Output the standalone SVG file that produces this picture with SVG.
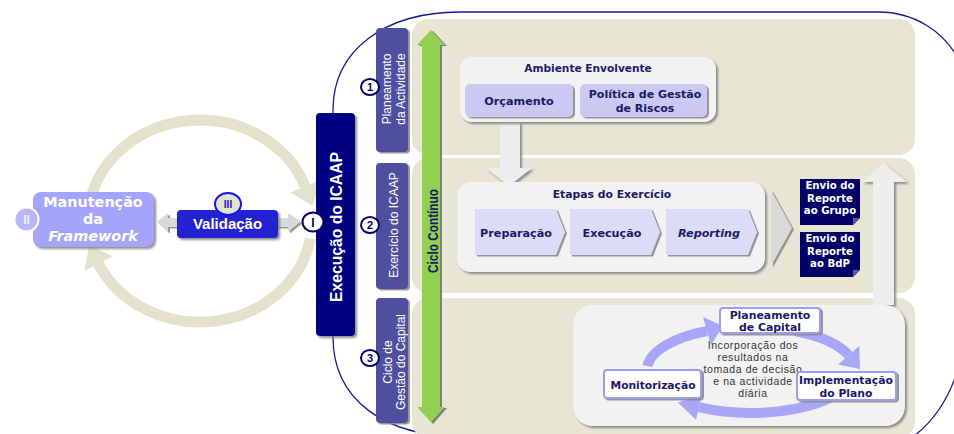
<svg xmlns="http://www.w3.org/2000/svg" width="954" height="434" viewBox="0 0 954 434">
<defs>
<filter id="ds" x="-20%" y="-20%" width="150%" height="150%"><feDropShadow dx="2" dy="2" stdDeviation="0.8" flood-color="#7a7a7a" flood-opacity="0.85"/></filter>
<filter id="ds2" x="-20%" y="-20%" width="150%" height="150%"><feDropShadow dx="2" dy="1.5" stdDeviation="0.6" flood-color="#8a8a8a" flood-opacity="0.9"/></filter>
<style>
.band{fill:#E7E5D3}
.side{fill:#5050A0}
.sidet{font-family:"Liberation Sans",Arial,sans-serif;font-size:12px;fill:#fff;text-anchor:middle}
.num{fill:#fff;stroke:#000066;stroke-width:2}
.numt{font-family:"Liberation Sans",Arial,sans-serif;font-weight:bold;font-size:11px;fill:#000066;text-anchor:middle}
.t{font-family:"DejaVu Sans",Verdana,sans-serif;font-weight:bold;fill:#1A1A66;text-anchor:middle}
.grey{fill:#F2F2F2}
.arr{fill:#EEEEEE}
.lav{fill:#C9C9F2}
.chev{fill:#DCDCF6}
.ring{fill:none;stroke:#A7A7F7;stroke-width:10}
.ringh{fill:#A7A7F7}
.node{fill:#fff;stroke:#9E9EF0;stroke-width:2}
.envio{fill:#000066}
.et{font-family:"DejaVu Sans",Verdana,sans-serif;font-weight:bold;font-size:10.2px;fill:#fff;text-anchor:middle}
.lring{fill:none;stroke:#E3E2CD;stroke-width:11}
.lringh{fill:#E3E2CD}
</style>
</defs>
<rect width="954" height="434" fill="#fff"/>

<!-- outer border -->
<g id="outer-border" fill="none" stroke="#1a1a8c" stroke-width="1.3">
<path d="M458 436 C385 436 333 400 333 337 V110 C333 50 385 12 460 12 H878 C915 12 945 32 960 62"/>
<path d="M914 436 C935 420 948 400 957 372"/>
</g>

<!-- bands -->
<g id="band1"><rect class="band" x="412" y="19" width="503" height="136" rx="16"/></g>
<g id="band2"><rect class="band" x="412" y="158" width="503" height="135" rx="16"/></g>
<g id="band3"><rect class="band" x="412" y="298" width="503" height="140" rx="16"/></g>

<!-- left cycle ring -->
<g id="left-cycle">
<path class="lring" d="M89.7 203.5 A112 101 0 0 1 305.2 186.5"/>
<polygon class="lringh" points="320,180.5 290.4,192.5 312.7,206"/>
<path class="lring" d="M310.3 238.5 A112 101 0 0 1 98.5 263.7"/>
<polygon class="lringh" points="112.7,256.4 84.3,271 89.3,245"/>
</g>

<!-- connectors -->
<g id="connectors">
<g id="validation-arrows" filter="url(#ds2)">
<polygon fill="#D9D9D9" points="157,222 168,213 168,218 180,218 180,227 168,227 168,232"/>
<polygon fill="#D9D9D9" points="276,218 288,218 288,213 300,222 288,232 288,227 276,227"/>
</g>
<g id="green-arrow">
<polygon fill="#7f7f7f" points="433,31 447,46 442,46 442,408 447,408 433,424 419,408 424,408 424,46 419,46"/>
<polygon fill="#92D050" points="431,30 445,45 440,45 440,407 445,407 431,422 417,407 422,407 422,45 417,45"/>
<text transform="translate(437.5,231) rotate(-90)" font-family="Liberation Sans,Arial,sans-serif" font-weight="bold" font-size="14" fill="#1A1A66" text-anchor="middle" textLength="84" lengthAdjust="spacingAndGlyphs">Ciclo Contínuo</text>
</g>
<polygon class="arr" filter="url(#ds)" points="500,122 520,122 520,168 532,168 509,186 486,168 500,168"/>
<polygon fill="#D9D9D9" filter="url(#ds2)" points="771,190 792,228 771,266"/>
<polygon class="arr" filter="url(#ds)" points="873,305 873,182 862,182 884,163 907,182 894,182 894,305"/>
</g>

<!-- Execução do ICAAP -->
<g id="execucao">
<rect x="316" y="113" width="39" height="223" rx="4" fill="#000080" filter="url(#ds)"/>
<text transform="translate(342,227) rotate(-90)" font-family="Liberation Sans,Arial,sans-serif" font-weight="bold" font-size="15.7" fill="#fff" text-anchor="middle">Execução do ICAAP</text>
</g>
<g id="circle-I">
<ellipse cx="313" cy="222" rx="10.5" ry="9.5" fill="#fff" stroke="#000066" stroke-width="2"/>
<text x="313" y="226.5" font-family="Liberation Sans,Arial,sans-serif" font-weight="bold" font-size="12" fill="#000066" text-anchor="middle">I</text>
</g>

<!-- Manutenção -->
<g id="manutencao">
<rect x="33" y="192" width="121" height="55" rx="8" fill="#A4A4FA" filter="url(#ds)"/>
<text font-family="DejaVu Sans,Verdana,sans-serif" font-weight="bold" font-size="14.4" fill="#fff" text-anchor="middle"><tspan x="93" y="207">Manutenção</tspan><tspan x="93" y="223.5">da</tspan><tspan x="93" y="240.5" font-style="italic">Framework</tspan></text>
</g>
<g id="circle-II">
<ellipse cx="26.5" cy="219.5" rx="12" ry="12" fill="#B7B7F8" stroke="#fff" stroke-width="2"/>
<text x="26.5" y="224" font-family="Liberation Sans,Arial,sans-serif" font-weight="bold" font-size="12" fill="#F0F0FF" text-anchor="middle">II</text>
</g>

<!-- Validação -->
<g id="validacao">
<rect x="177" y="210" width="101" height="28" rx="4" fill="#2020D0" filter="url(#ds)"/>
<text x="227.5" y="229" font-family="Liberation Sans,Arial,sans-serif" font-weight="bold" font-size="15" fill="#fff" text-anchor="middle">Validação</text>
</g>
<g id="circle-III">
<ellipse cx="228" cy="204" rx="13" ry="11" fill="#E3E2CD" stroke="#1515E0" stroke-width="2"/>
<text x="228" y="208" font-family="Liberation Sans,Arial,sans-serif" font-weight="bold" font-size="10" fill="#1515E0" text-anchor="middle">III</text>
</g>

<!-- side labels -->
<g id="side-1">
<rect class="side" x="376" y="28" width="32" height="124" rx="4" filter="url(#ds2)"/>
<text class="sidet" transform="translate(391,89) rotate(-90)">Planeamento</text>
<text class="sidet" transform="translate(405,89) rotate(-90)">da Actividade</text>
<ellipse class="num" cx="370" cy="87" rx="9" ry="8"/>
<text class="numt" x="370" y="91">1</text>
</g>
<g id="side-2">
<rect class="side" x="376" y="163" width="32" height="126" rx="4" filter="url(#ds2)"/>
<text class="sidet" transform="translate(398,225) rotate(-90)">Exercício do ICAAP</text>
<ellipse class="num" cx="370" cy="225" rx="9" ry="8"/>
<text class="numt" x="370" y="229">2</text>
</g>
<g id="side-3">
<rect class="side" x="376" y="298" width="32" height="125" rx="4" filter="url(#ds2)"/>
<text class="sidet" transform="translate(392,362) rotate(-90)">Ciclo de</text>
<text class="sidet" transform="translate(405,362) rotate(-90)">Gestão do Capital</text>
<ellipse class="num" cx="370" cy="358" rx="9" ry="8"/>
<text class="numt" x="370" y="362">3</text>
</g>

<!-- Ambiente Envolvente -->
<g id="ambiente">
<rect class="grey" x="460" y="57" width="256" height="65" rx="12" filter="url(#ds)"/>
<text class="t" x="588" y="72" font-size="10.6">Ambiente Envolvente</text>
</g>
<g id="orcamento">
<rect class="lav" x="465" y="84" width="108" height="33" rx="5" filter="url(#ds2)"/>
<text class="t" x="519" y="105" font-size="11.2">Orçamento</text>
</g>
<g id="politica">
<rect class="lav" x="580" y="84" width="127" height="33" rx="5" filter="url(#ds2)"/>
<text class="t" font-size="11"><tspan x="645" y="98">Política de Gestão</tspan><tspan x="645" y="112">de Riscos</tspan></text>
</g>

<!-- Etapas do Exercício -->
<g id="etapas">
<rect class="grey" x="457" y="182" width="308" height="90" rx="14" filter="url(#ds)"/>
<text class="t" x="612" y="198" font-size="10.8">Etapas do Exercício</text>
</g>
<g id="preparacao">
<polygon class="chev" filter="url(#ds2)" points="475,209 556,209 565,232 556,255 475,255"/>
<text class="t" x="516" y="237" font-size="11.2">Preparação</text>
</g>
<g id="execucao-step">
<polygon class="chev" filter="url(#ds2)" points="570,209 651,209 660,232 651,255 570,255"/>
<text class="t" x="612" y="237" font-size="11.2">Execução</text>
</g>
<g id="reporting">
<polygon class="chev" filter="url(#ds2)" points="666,209 748,209 757,232 748,255 666,255"/>
<text class="t" x="709" y="237" font-size="11.2" font-style="italic">Reporting</text>
</g>

<!-- Envio boxes -->
<g id="envio-grupo">
<path class="envio" d="M800 179 H860 V218 L853 225 H800 Z"/>
<path d="M860 218 L853 225 L853 218 Z" fill="#5a5a9a"/>
<text class="et"><tspan x="830" y="189">Envio do</tspan><tspan x="830" y="201.5">Reporte</tspan><tspan x="830" y="214">ao Grupo</tspan></text>
</g>
<g id="envio-bdp">
<path class="envio" d="M800 232 H860 V270 L853 277 H800 Z"/>
<path d="M860 270 L853 277 L853 270 Z" fill="#5a5a9a"/>
<text class="et"><tspan x="830" y="242">Envio do</tspan><tspan x="830" y="254.5">Reporte</tspan><tspan x="830" y="267">ao BdP</tspan></text>
</g>

<!-- Capital cycle -->
<g id="capital-cycle-box">
<rect class="grey" x="573" y="305" width="332" height="121" rx="20" filter="url(#ds)"/>
</g>
<g id="capital-ring">
<path class="ring" d="M647.4 366 A104 43 0 0 1 707 331"/>
<polygon class="ringh" points="703,317 711,345 723,326"/>
<path class="ring" d="M795 331 A104 43 0 0 1 848.7 355.3"/>
<polygon class="ringh" points="859.2,346 838.2,364.6 860,369"/>
<path class="ring" d="M830.7 397.6 A104 43 0 0 1 699 407.2"/>
<polygon class="ringh" points="702,394.6 696,419.8 678,402.6"/>
</g>
<g id="cycle-text">
<text font-family="Liberation Sans,Arial,sans-serif" font-size="10.5" fill="#333" text-anchor="middle" letter-spacing="0.6"><tspan x="753" y="349">Incorporação dos</tspan><tspan x="753" y="361">resultados na</tspan><tspan x="753" y="373">tomada de decisão</tspan><tspan x="753" y="385">e na actividade</tspan><tspan x="753" y="397">diária</tspan></text>
</g>
<g id="planeamento-capital">
<rect class="node" x="720" y="308" width="100" height="25" rx="3" filter="url(#ds2)"/>
<text class="t" font-size="10.9"><tspan x="770" y="318.5">Planeamento</tspan><tspan x="770" y="331">de Capital</tspan></text>
</g>
<g id="monitorizacao">
<rect class="node" x="604" y="370" width="97" height="28" rx="3" filter="url(#ds2)"/>
<text class="t" x="653" y="389" font-size="10.7">Monitorização</text>
</g>
<g id="implementacao">
<rect class="node" x="797" y="372" width="99" height="28" rx="3" filter="url(#ds2)"/>
<text class="t" font-size="10.8"><tspan x="846" y="384">Implementação</tspan><tspan x="846" y="397">do Plano</tspan></text>
</g>
</svg>
